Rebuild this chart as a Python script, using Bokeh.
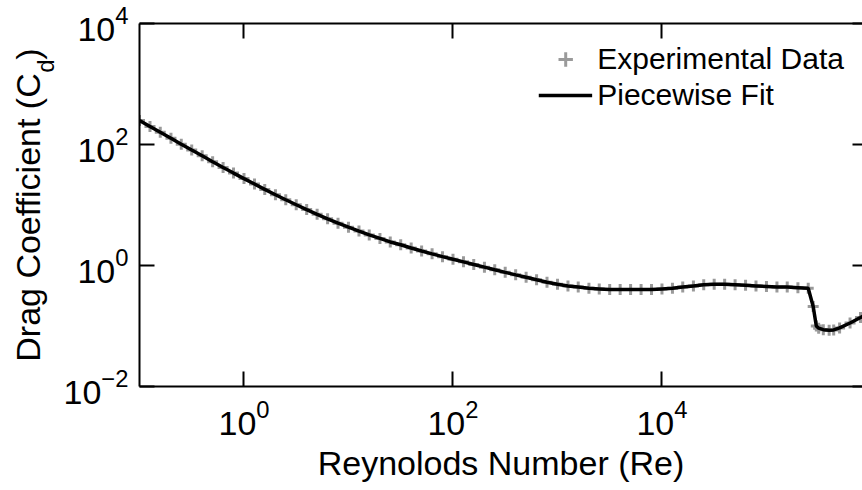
import math

from bokeh.core.properties import value
from bokeh.embed import file_html
from bokeh.layouts import row
from bokeh.models import FixedTicker, Legend, LegendItem, LogAxis, Range1d
from bokeh.plotting import figure
from bokeh.resources import INLINE

FONT = "Liberation Sans"

# Measured drag coefficient of a sphere versus Reynolds number
re_data = [0.1, 0.126, 0.158, 0.2, 0.251, 0.316, 0.398, 0.501, 0.631, 0.794,
           1.0, 1.26, 1.58, 2.0, 2.51, 3.16, 3.98, 5.01, 6.31, 7.94,
           10, 12.6, 15.8, 20, 25.1, 31.6, 39.8, 50.1, 63.1, 79.4,
           100, 126, 158, 200, 251, 316, 398, 501, 631, 794,
           1000, 1260, 1580, 2000, 2510, 3160, 3980, 5010, 6310, 7940,
           10000, 12600, 15800, 20000, 25100, 31600, 39800, 50100, 63100, 79400,
           100000, 126000, 158000, 200000, 251000, 280000, 300000, 316000,
           350000, 398000, 440000, 501000, 631000, 794000, 900000]
cd_data = [250, 199, 159, 127, 101, 81, 65, 52, 41.8, 33.7,
           27.3, 22.2, 18.1, 14.8, 12.2, 10.1, 8.4, 7.0, 5.9, 5.0,
           4.3, 3.7, 3.2, 2.8, 2.45, 2.2, 1.95, 1.74, 1.56, 1.40,
           1.27, 1.15, 1.04, 0.94, 0.85, 0.77, 0.70, 0.64, 0.58, 0.53,
           0.49, 0.46, 0.44, 0.42, 0.41, 0.40, 0.40, 0.40, 0.40, 0.40,
           0.41, 0.42, 0.44, 0.46, 0.48, 0.49, 0.49, 0.48, 0.47, 0.46,
           0.45, 0.44, 0.44, 0.43, 0.42, 0.21, 0.10, 0.092,
           0.087, 0.085, 0.086, 0.093, 0.112, 0.138, 0.155]

# Piecewise fit evaluated at the measurement Reynolds numbers
re_fit = re_data
cd_fit = cd_data

x_ticks = [1, 100, 10000]
y_ticks = [0.01, 1, 100, 10000]

y_title = "Drag Coefficient (C"
y_title_sub = "d"
y_title_end = ")"

TITLE_W = 60
H = 490
FRAME_TOP = 23
FRAME_BOTTOM = 386

# Narrow strip holding the vertical axis title. Its frame is aligned with the
# main plot's frame by the row layout, so the range maps straight to pixels.
ttl = figure(width=TITLE_W, height=H, x_range=Range1d(0, TITLE_W),
             y_range=Range1d(FRAME_BOTTOM, FRAME_TOP), output_backend="svg",
             toolbar_location=None, x_axis_location=None, y_axis_location=None,
             min_border=0)
ttl.outline_line_color = None
ttl.xgrid.grid_line_color = None
ttl.ygrid.grid_line_color = None
ttl.border_fill_color = "white"
ttl.background_fill_color = "white"
txt_kw = dict(angle=math.pi / 2, text_align="center", text_baseline="middle",
              text_font=value(FONT), text_color="black")
ttl.text(x=[27], y=[217], text=[y_title], text_font_size="34px", **txt_kw)
ttl.text(x=[45], y=[65.5], text=[y_title_sub], text_font_size="24px", **txt_kw)
ttl.text(x=[27], y=[53.5], text=[y_title_end], text_font_size="34px", **txt_kw)

p = figure(width=862 - TITLE_W, height=H, x_axis_type="log", y_axis_type="log",
           x_range=Range1d(0.1, 8.3e5), y_range=Range1d(1e-2, 1e4),
           output_backend="svg", toolbar_location=None,
           min_border_left=139 - TITLE_W, min_border_right=0,
           min_border_top=FRAME_TOP, min_border_bottom=H - FRAME_BOTTOM)
p.outline_line_color = None
p.xgrid.grid_line_color = None
p.ygrid.grid_line_color = None
p.background_fill_color = "white"
p.border_fill_color = "white"

data_r = p.scatter(re_data, cd_data, marker="cross", size=11, line_width=3,
                   line_color="#9a9a9a")
fit_r = p.line(re_fit, cd_fit, line_width=3.5, line_color="black")


def style_axis(ax, ticks, show_labels=True, show_line=True, tick_len=15):
    ax.ticker = FixedTicker(ticks=ticks)
    ax.major_tick_in = tick_len
    ax.major_tick_out = 0
    ax.minor_tick_in = 0
    ax.minor_tick_out = 0
    ax.major_tick_line_width = 2
    ax.major_tick_line_color = "black"
    ax.axis_line_width = 2
    ax.axis_line_color = "black" if show_line else None
    ax.major_label_text_font = FONT
    ax.major_label_text_color = "black"
    if show_labels:
        ax.major_label_text_font_size = "34px"
    else:
        ax.major_label_text_font_size = "1px"
        ax.major_label_text_alpha = 0
        ax.major_label_standoff = 0


bottom = p.xaxis[0]
left = p.yaxis[0]
style_axis(bottom, x_ticks)
style_axis(left, y_ticks)
bottom.major_label_standoff = 13
left.major_label_standoff = 11

bottom.axis_label = "Reynolods Number (Re)"
bottom.axis_label_text_font = FONT
bottom.axis_label_text_font_size = "34px"
bottom.axis_label_text_font_style = "normal"
bottom.axis_label_text_color = "black"
bottom.axis_label_standoff = 6

top = LogAxis()
style_axis(top, x_ticks, show_labels=False)
p.add_layout(top, "above")

right = LogAxis()
style_axis(right, y_ticks, show_labels=False, show_line=False, tick_len=10)
p.add_layout(right, "right")

legend = Legend(items=[LegendItem(label="Experimental Data", renderers=[data_r]),
                       LegendItem(label="Piecewise Fit", renderers=[fit_r])],
                location="top_right", border_line_color=None,
                background_fill_alpha=0, label_text_font=FONT,
                label_text_font_size="30px", label_text_color="black",
                glyph_width=54, glyph_height=36, label_height=36,
                label_standoff=5, spacing=0, padding=10, margin=18)
p.add_layout(legend)

layout = row(ttl, p, spacing=0)
open("out.html", "w").write(file_html(layout, INLINE))
